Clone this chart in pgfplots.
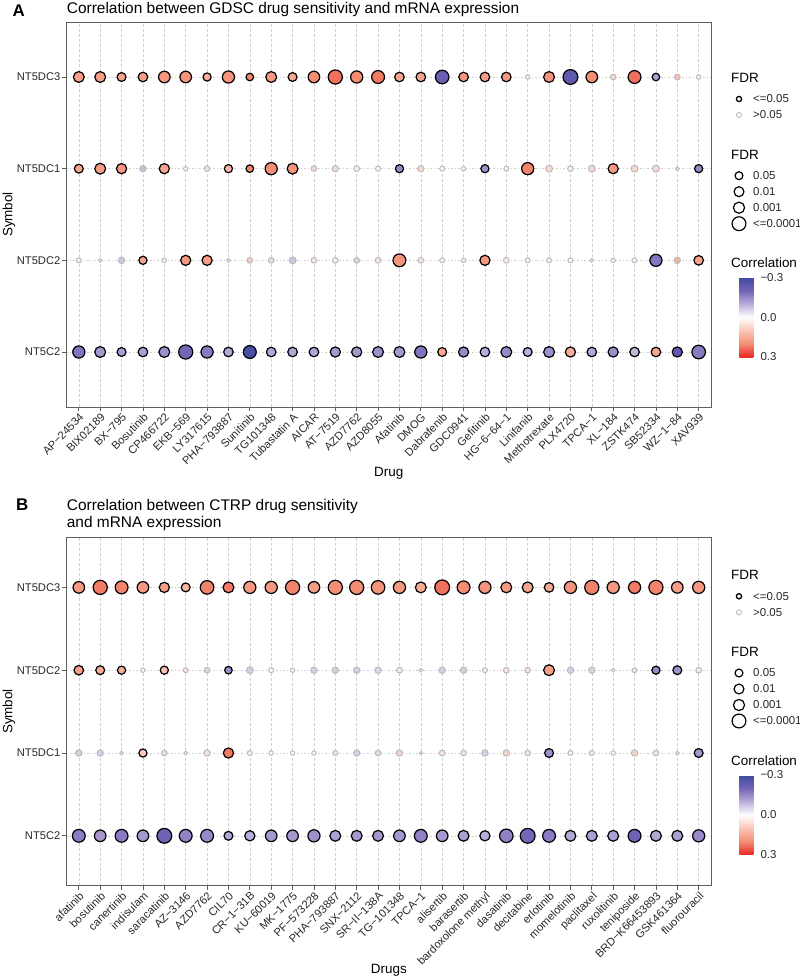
\documentclass[border=0pt]{standalone}
\usepackage{pgfplots}
\pgfplotsset{compat=1.18}
\usepackage{pgfplotstable}
\usepackage{fontspec}
\setmainfont{Liberation Sans}

\pgfplotsset{colormap={corr}{rgb255=(62,74,160) rgb255=(118,100,183) rgb255=(186,174,218) rgb255=(255,255,255) rgb255=(251,198,182) rgb255=(243,142,117) rgb255=(236,40,36)}}

% Panel A: y: 4=NT5DC3, 3=NT5DC1, 2=NT5DC2, 1=NT5C2 ; c=correlation, r=radius(bp), s=FDR<=0.05
\pgfplotstableread{
x y c r s
1 4 0.17 5.45 1
2 4 0.17 5.45 1
3 4 0.16 4.45 1
4 4 0.17 4.8 1
5 4 0.18 5.8 1
6 4 0.19 5.8 1
7 4 0.14 4.1 1
8 4 0.19 6.1 1
9 4 0.21 3.8 1
10 4 0.18 5.45 1
11 4 0.15 4.45 1
12 4 0.20 5.8 1
13 4 0.23 7.1 1
14 4 0.20 6.1 1
15 4 0.22 6.45 1
16 4 0.16 4.8 1
17 4 0.16 4.8 1
18 4 -0.22 6.8 1
19 4 0.18 4.8 1
20 4 0.17 4.8 1
21 4 0.18 4.8 1
22 4 0.02 2.2 0
23 4 0.19 5.45 1
24 4 -0.24 7.45 1
25 4 0.20 5.8 1
26 4 0.07 2.85 0
27 4 0.23 6.45 1
28 4 -0.12 3.8 1
29 4 0.11 2.85 0
30 4 0.02 2.2 0
1 3 0.16 4.45 1
2 3 0.17 5.45 1
3 3 0.18 5.1 1
4 3 -0.08 3.2 0
5 3 0.16 5.1 1
6 3 0.01 2.2 0
7 3 0.06 2.85 0
8 3 0.13 4.1 1
9 3 0.21 3.8 1
10 3 0.20 6.1 1
11 3 0.19 5.45 1
12 3 0.07 2.85 0
13 3 0.07 3.2 0
14 3 0.03 2.85 0
15 3 0.01 2.5 0
16 3 -0.15 4.1 1
17 3 0.07 3.2 0
18 3 0.01 2.5 0
19 3 0.01 2.2 0
20 3 -0.14 4.1 1
21 3 0.02 2.5 0
22 3 0.21 6.1 1
23 3 0.07 3.5 0
24 3 0.03 2.85 0
25 3 0.07 3.5 0
26 3 0.18 5.1 1
27 3 0.07 3.5 0
28 3 0.07 3.5 0
29 3 0.01 1.85 0
30 3 -0.15 4.1 1
1 2 0.02 2.5 0
2 2 0.01 1.85 0
3 2 -0.07 3.2 0
4 2 0.16 4.1 1
5 2 0.01 2.2 0
6 2 0.18 5.1 1
7 2 0.17 5.1 1
8 2 0.01 1.85 0
9 2 0.09 2.85 0
10 2 -0.04 2.85 0
11 2 -0.07 3.5 0
12 2 0.05 2.85 0
13 2 0.03 2.85 0
14 2 -0.05 2.85 0
15 2 0.05 2.85 0
16 2 0.19 6.45 1
17 2 0.05 2.85 0
18 2 0.02 2.5 0
19 2 0.02 2.2 0
20 2 0.18 5.1 1
21 2 0.04 2.85 0
22 2 0.01 2.5 0
23 2 0.02 2.5 0
24 2 0.01 2.5 0
25 2 0.01 1.85 0
26 2 0.01 2.2 0
27 2 0.01 2.5 0
28 2 -0.18 6.1 1
29 2 0.14 3.2 0
30 2 0.16 4.8 1
1 1 -0.18 6.1 1
2 1 -0.13 5.45 1
3 1 -0.12 4.45 1
4 1 -0.12 4.8 1
5 1 -0.14 5.45 1
6 1 -0.20 7.1 1
7 1 -0.17 6.1 1
8 1 -0.11 4.8 1
9 1 -0.28 6.45 1
10 1 -0.11 4.8 1
11 1 -0.11 4.8 1
12 1 -0.11 4.8 1
13 1 -0.13 5.1 1
14 1 -0.13 5.1 1
15 1 -0.14 5.45 1
16 1 -0.13 5.45 1
17 1 -0.18 6.1 1
18 1 0.15 4.45 1
19 1 -0.15 5.1 1
20 1 -0.10 4.8 1
21 1 -0.15 5.45 1
22 1 -0.10 4.45 1
23 1 -0.14 5.45 1
24 1 0.15 5.1 1
25 1 -0.11 4.8 1
26 1 -0.14 5.1 1
27 1 -0.09 4.8 1
28 1 0.16 4.8 1
29 1 -0.24 5.1 1
30 1 -0.17 6.8 1
}\tabA

% Panel B: y: 4=NT5DC3, 3=NT5DC2, 2=NT5DC1, 1=NT5C2
\pgfplotstableread{
x y c r s
1 4 0.18 5.8 1
2 4 0.22 7.1 1
3 4 0.21 6.45 1
4 4 0.18 5.8 1
5 4 0.17 5.1 1
6 4 0.13 4.45 1
7 4 0.21 6.8 1
8 4 0.22 5.45 1
9 4 0.18 6.1 1
10 4 0.18 6.1 1
11 4 0.21 7.1 1
12 4 0.17 5.8 1
13 4 0.20 7.1 1
14 4 0.20 7.1 1
15 4 0.19 6.8 1
16 4 0.18 6.1 1
17 4 0.15 5.45 1
18 4 0.23 7.45 1
19 4 0.20 6.45 1
20 4 0.19 6.1 1
21 4 0.18 5.45 1
22 4 0.16 5.45 1
23 4 0.15 4.8 1
24 4 0.19 6.1 1
25 4 0.21 7.1 1
26 4 0.18 6.1 1
27 4 0.22 6.1 1
28 4 0.21 7.1 1
29 4 0.17 5.8 1
30 4 0.18 6.1 1
1 3 0.17 4.8 1
2 3 0.15 4.45 1
3 3 0.14 4.1 1
4 3 0.01 2.2 0
5 3 0.11 4.1 1
6 3 0.05 2.5 0
7 3 -0.05 2.85 0
8 3 -0.14 3.8 1
9 3 -0.06 3.5 0
10 3 0.01 2.5 0
11 3 0.01 2.2 0
12 3 -0.06 3.2 0
13 3 -0.06 3.2 0
14 3 -0.06 3.2 0
15 3 -0.05 3.2 0
16 3 -0.02 2.85 0
17 3 0.00 1.85 0
18 3 -0.06 3.2 0
19 3 -0.06 3.2 0
20 3 -0.02 2.5 0
21 3 0.05 2.85 0
22 3 0.06 2.85 0
23 3 0.17 5.45 1
24 3 -0.06 3.2 0
25 3 -0.05 3.2 0
26 3 0.00 1.85 0
27 3 0.05 2.5 0
28 3 -0.15 4.1 1
29 3 -0.14 4.45 1
30 3 0.04 2.85 0
1 2 -0.06 3.2 0
2 2 -0.06 3.2 0
3 2 0.00 1.85 0
4 2 0.10 4.1 1
5 2 -0.04 2.85 0
6 2 0.00 1.85 0
7 2 0.06 3.2 0
8 2 0.22 5.1 1
9 2 -0.02 2.5 0
10 2 0.00 2.2 0
11 2 0.00 2.2 0
12 2 0.00 2.2 0
13 2 0.05 2.5 0
14 2 -0.06 3.2 0
15 2 -0.04 2.85 0
16 2 0.08 3.2 0
17 2 0.00 1.5 0
18 2 0.05 2.85 0
19 2 0.05 2.85 0
20 2 -0.06 3.2 0
21 2 0.08 3.2 0
22 2 0.05 2.85 0
23 2 -0.14 4.45 1
24 2 -0.01 2.5 0
25 2 -0.02 2.5 0
26 2 0.00 2.2 0
27 2 0.08 3.2 0
28 2 0.05 2.85 0
29 2 0.00 1.85 0
30 2 -0.13 4.45 1
1 1 -0.17 6.45 1
2 1 -0.13 5.8 1
3 1 -0.17 6.45 1
4 1 -0.13 5.8 1
5 1 -0.21 7.45 1
6 1 -0.16 6.45 1
7 1 -0.15 6.45 1
8 1 -0.11 4.45 1
9 1 -0.10 5.1 1
10 1 -0.13 5.8 1
11 1 -0.13 5.8 1
12 1 -0.14 6.1 1
13 1 -0.12 5.45 1
14 1 -0.13 5.45 1
15 1 -0.13 5.45 1
16 1 -0.13 5.8 1
17 1 -0.16 6.45 1
18 1 -0.13 5.8 1
19 1 -0.12 5.45 1
20 1 -0.10 5.1 1
21 1 -0.16 6.8 1
22 1 -0.20 7.45 1
23 1 -0.17 6.45 1
24 1 -0.11 5.45 1
25 1 -0.12 5.45 1
26 1 -0.12 5.45 1
27 1 -0.21 6.45 1
28 1 -0.11 5.45 1
29 1 -0.12 5.45 1
30 1 -0.15 6.1 1
}\tabB

\definecolor{gridc}{RGB}{208,208,208}
\definecolor{framec}{RGB}{95,95,95}
\definecolor{txtc}{RGB}{40,40,40}
\definecolor{nsc}{RGB}{188,188,188}

\pgfplotsset{
  bubbleaxis/.style={
    scale only axis, width=645.5bp,
    xmin=0.4, xmax=30.6, ymin=0.4, ymax=4.6,
    xtick={1,...,30}, ytick={1,2,3,4},
    xtick pos=left, ytick pos=left,
    tick align=outside, major tick length=4bp,
    tick style={color=framec, line width=0.8bp},
    axis line style={color=framec, line width=0.9bp},
    tick label style={font=\fontsize{11.2}{13}\selectfont, color=txtc},
    xticklabel style={rotate=45, anchor=north east, inner sep=1bp},
    yticklabel style={inner sep=1.5bp},
    xmajorgrids, ymajorgrids,
    major x grid style={color=gridc, line width=0.5bp, dash pattern=on 3bp off 2bp},
    major y grid style={color=gridc, line width=0.5bp, dash pattern=on 1.5bp off 2bp},
    colormap name=corr, point meta min=-0.3, point meta max=0.3,
    clip=false,
  },
  cbar/.style={
    colorbar,
    colorbar style={
      at={(parent axis.north east)}, anchor=north west,
      xshift=19.3bp, yshift=#1,
      width=16.5bp, height=79.5bp, scale only axis,
      y dir=reverse,
      ytick={-0.3,0,0.3}, yticklabels={−0.3,0.0,0.3},
      yticklabel pos=right,
      yticklabel style={font=\fontsize{11.5}{13}\selectfont, color=txtc, inner sep=0bp, xshift=4.5bp, anchor=west},
      major tick length=0pt, tick style={draw=none}, axis line style={draw=none},
    },
  },
  sigplot/.style={scatter, only marks, mark=*, scatter src=explicit,
    scatter/use mapped color={draw=black, fill=mapped color},
    visualization depends on={\thisrow{r} \as \rad},
    scatter/@pre marker code/.append style={/tikz/mark size=\rad},
    line width=1.2bp, mark options={line width=1.2bp},
    restrict expr to domain={\thisrow{s}}{0.5:1.5}},
  nsplot/.style={scatter, only marks, mark=*, scatter src=explicit,
    scatter/use mapped color={draw=nsc, fill=mapped color},
    visualization depends on={\thisrow{r} \as \rad},
    scatter/@pre marker code/.append style={/tikz/mark size=\rad},
    line width=1.05bp, mark options={line width=1.05bp},
    restrict expr to domain={\thisrow{s}}{-0.5:0.5}},
}

\begin{document}
\begin{tikzpicture}
\path[use as bounding box] (0bp,0bp) rectangle (800bp,-979bp);

% ---------------- Panel A ----------------
\begin{axis}[bubbleaxis, cbar=-255.5bp,
  at={(66bp,-407bp)}, anchor=south west, height=385bp,
  yticklabels={NT5C2,NT5DC2,NT5DC1,NT5DC3},
  xticklabels={AP−24534,BIX02189,BX−795,Bosutinib,CP466722,EKB−569,LY317615,PHA−793887,Sunitinib,TG101348,Tubastatin A,AICAR,AT−7519,AZD7762,AZD8055,Afatinib,DMOG,Dabrafenib,GDC0941,Gefitinib,HG−6−64−1,Linifanib,Methotrexate,PLX4720,TPCA−1,XL−184,ZSTK474,SB52334,WZ−1−84,XAV939},
]
\addplot[nsplot] table[x=x, y=y, meta=c] {\tabA};
\addplot[sigplot] table[x=x, y=y, meta=c] {\tabA};
\end{axis}

% ---------------- Panel B ----------------
\begin{axis}[bubbleaxis, cbar=-237.3bp,
  at={(66bp,-885.5bp)}, anchor=south west, height=347.8bp,
  yticklabels={NT5C2,NT5DC1,NT5DC2,NT5DC3},
  xticklabels={afatinib,bosutinib,canertinib,indisulam,saracatinib,AZ−3146,AZD7762,CIL70,CR−1−31B,KU−60019,MK−1775,PF−573228,PHA−793887,SNX−2112,SR−II−138A,TG−101348,TPCA−1,alisertib,barasertib,bardoxolone methyl,dasatinib,decitabine,erlotinib,momelotinib,paclitaxel,ruxolitinib,teniposide,BRD−K66453893,GSK461364,fluorouracil},
]
\addplot[nsplot] table[x=x, y=y, meta=c] {\tabB};
\addplot[sigplot] table[x=x, y=y, meta=c] {\tabB};
\end{axis}

% ---------------- Overlay: titles and legends ----------------
\begin{axis}[at={(0bp,0bp)}, anchor=north west, scale only axis,
  width=800bp, height=979bp, xmin=0, xmax=800, ymin=-979, ymax=0,
  hide axis, clip=false]
% legend keys: FDR significance
\addplot[only marks, mark=*, mark size=2.6, mark options={draw=black, fill=white, line width=1.3bp}] coordinates {(739,-99) (739,-596.3)};
\addplot[only marks, mark=*, mark size=2.6, mark options={draw=nsc, fill=white, line width=0.9bp}] coordinates {(739,-115) (739,-612.3)};
% legend keys: FDR size
\addplot[only marks, mark=*, mark size=3.95, mark options={draw=black, fill=white, line width=1.2bp}] coordinates {(739,-175.7) (739,-673)};
\addplot[only marks, mark=*, mark size=4.95, mark options={draw=black, fill=white, line width=1.2bp}] coordinates {(739,-191.7) (739,-689)};
\addplot[only marks, mark=*, mark size=5.6, mark options={draw=black, fill=white, line width=1.2bp}] coordinates {(739,-207.7) (739,-705)};
\addplot[only marks, mark=*, mark size=6.95, mark options={draw=black, fill=white, line width=1.2bp}] coordinates {(739,-223.7) (739,-721)};

\pgfplotsinvokeforeach{0,497.3}{
  \node[anchor=west, inner sep=0, font=\fontsize{13.5}{16}\selectfont] at (axis cs:731,-78-#1) {FDR};
  \node[anchor=west, inner sep=0, font=\fontsize{11.5}{13}\selectfont, color=txtc] at (axis cs:753,-99-#1) {<=0.05};
  \node[anchor=west, inner sep=0, font=\fontsize{11.5}{13}\selectfont, color=txtc] at (axis cs:753,-115-#1) {>0.05};
  \node[anchor=west, inner sep=0, font=\fontsize{13.5}{16}\selectfont] at (axis cs:731,-155-#1) {FDR};
  \node[anchor=west, inner sep=0, font=\fontsize{11.5}{13}\selectfont, color=txtc] at (axis cs:753,-175.7-#1) {0.05};
  \node[anchor=west, inner sep=0, font=\fontsize{11.5}{13}\selectfont, color=txtc] at (axis cs:753,-191.7-#1) {0.01};
  \node[anchor=west, inner sep=0, font=\fontsize{11.5}{13}\selectfont, color=txtc] at (axis cs:753,-207.7-#1) {0.001};
  \node[anchor=west, inner sep=0, font=\fontsize{11.5}{13}\selectfont, color=txtc] at (axis cs:753,-223.7-#1) {<=0.0001};
  \node[anchor=west, inner sep=0, font=\fontsize{13.5}{16}\selectfont] at (axis cs:731,-263-#1) {Correlation};
}
% titles
\node[anchor=base west, inner sep=0, font=\bfseries\fontsize{17}{20}\selectfont] at (axis cs:12.5,-16.7) {A};
\node[anchor=base west, inner sep=0, font=\fontsize{15.5}{18}\selectfont] at (axis cs:66.7,-13.3) {Correlation between GDSC drug sensitivity and mRNA expression};
\node[anchor=base west, inner sep=0, font=\bfseries\fontsize{17}{20}\selectfont] at (axis cs:16,-510) {B};
\node[anchor=base west, inner sep=0, font=\fontsize{15.5}{18}\selectfont] at (axis cs:66.7,-510) {Correlation between CTRP drug sensitivity};
\node[anchor=base west, inner sep=0, font=\fontsize{15.5}{18}\selectfont] at (axis cs:66.7,-527.7) {and mRNA expression};
% axis titles
\node[font=\fontsize{13.5}{16}\selectfont] at (axis cs:388.8,-473) {Drug};
\node[font=\fontsize{13.5}{16}\selectfont] at (axis cs:388.8,-970) {Drugs};
\node[rotate=90, font=\fontsize{13.5}{16}\selectfont] at (axis cs:9,-214.5) {Symbol};
\node[rotate=90, font=\fontsize{13.5}{16}\selectfont] at (axis cs:9,-711.5) {Symbol};
\end{axis}
\end{tikzpicture}
\end{document}
